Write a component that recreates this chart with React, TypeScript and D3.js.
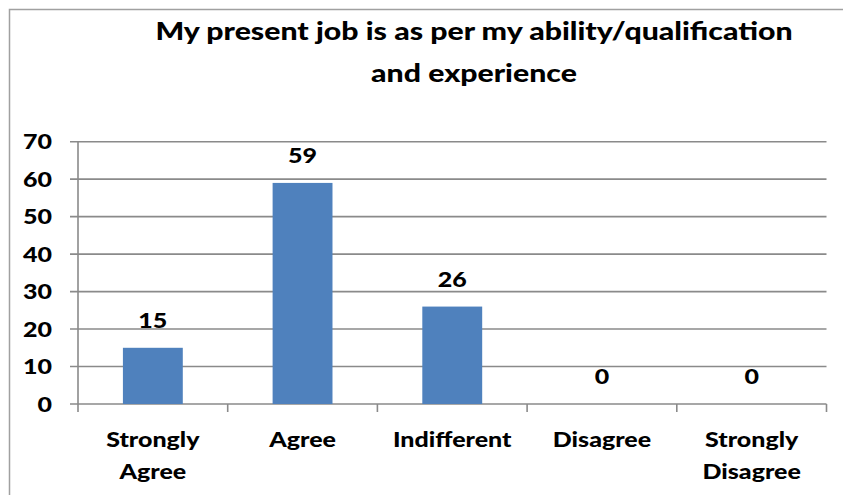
import React from "react";
import * as d3 from "d3";

const categories = [["Strongly", "Agree"], ["Agree"], ["Indifferent"], ["Disagree"], ["Strongly", "Disagree"]];
const values = [15, 59, 26, 0, 0];
const yTicks = [0, 10, 20, 30, 40, 50, 60, 70];
const titleLines = ["My present job is as per my ability/qualification", "and experience"];

const W = 843, H = 495;
const FONT = "Lato, 'Noto Sans', sans-serif";

function T({ x, y, anchor = "middle", size = 21, sx = 1.19, children }: any) {
  return (
    <g transform={`translate(${x},${y}) scale(${sx},1)`}>
      <text x={0} y={0} textAnchor={anchor} fontWeight={900} fontSize={size} fill="#000">{children}</text>
    </g>
  );
}

export default function App() {
  const x0 = 78, x1 = 826.5, y0 = 404, y1 = 141.7;
  const x = d3.scaleBand<number>().domain(values.map((_, i) => i)).range([x0, x1]).paddingInner(0.6).paddingOuter(0.3);
  const xb = d3.scaleBand<number>().domain(values.map((_, i) => i)).range([x0, x1]);
  const y = d3.scaleLinear().domain([0, 70]).range([y0, y1]);
  const grid = "#8a8a8a";
  return (
    <svg width={W} height={H} style={{ position: "absolute", left: 0, top: 0, background: "#fff" }} fontFamily={FONT}>
      <rect x={9.5} y={9.5} width={900} height={600} fill="#fff" stroke="#a0a0a0" strokeWidth={1.5} />
      {titleLines.map((t, i) => (
        <T key={i} x={474} y={40 + i * 42} size={25} sx={1.21}>{t}</T>
      ))}
      {yTicks.map((t) => (
        <g key={t}>
          <line x1={70} x2={x1} y1={y(t)} y2={y(t)} stroke={grid} strokeWidth={1.6} />
          <T x={52} y={y(t) + 7.5} anchor="end">{t}</T>
        </g>
      ))}
      <line x1={x0} x2={x0} y1={y1} y2={y0 + 8} stroke={grid} strokeWidth={1.6} />
      {values.map((_, i) => (
        <line key={i} x1={(xb(i) as number) + xb.bandwidth()} x2={(xb(i) as number) + xb.bandwidth()} y1={y0} y2={y0 + 8} stroke={grid} strokeWidth={1.6} />
      ))}
      {values.map((v, i) => (
        <rect key={i} x={x(i)} y={y(v)} width={x.bandwidth()} height={y0 - y(v)} fill="#4F81BD" />
      ))}
      {values.map((v, i) => (
        <T key={i} x={(x(i) as number) + x.bandwidth() / 2} y={y(v) - 20}>{v}</T>
      ))}
      {categories.map((lines, i) =>
        lines.map((l, j) => (
          <T key={`${i}-${j}`} x={(xb(i) as number) + xb.bandwidth() / 2} y={446.5 + j * 32.5}>{l}</T>
        ))
      )}
    </svg>
  );
}
